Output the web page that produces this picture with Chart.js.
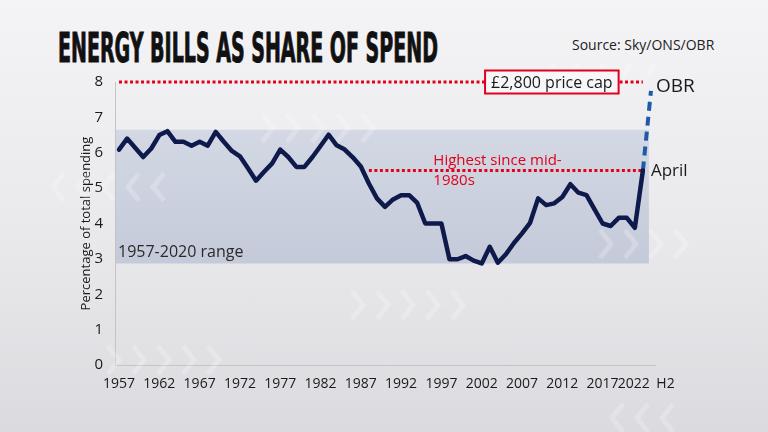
<!DOCTYPE html>
<html>
<head>
<meta charset="utf-8">
<script src="https://cdn.jsdelivr.net/npm/chart.js@4/dist/chart.umd.min.js"></script>
<style>
html,body{margin:0;padding:0;}
body{width:768px;height:432px;overflow:hidden;position:relative;
  background:linear-gradient(180deg,#f4f4f6 0%,#e9e9ec 55%,#dbdbdf 100%);
  font-family:'Open Sans',sans-serif;}
#title{position:absolute;left:58px;top:28px;font-family:'Liberation Sans Narrow','DejaVu Sans Condensed','Liberation Sans',sans-serif;
  font-weight:700;font-size:41px;line-height:1;color:#111;white-space:nowrap;transform-origin:0 0;-webkit-text-stroke:1px #111;}
#source{position:absolute;left:572px;top:35px;font-size:14px;color:#222;white-space:nowrap;}
#wrap{position:absolute;left:0;top:0;width:768px;height:432px;}
</style>
</head>
<body>
<div id="title">ENERGY BILLS AS SHARE OF SPEND</div>
<div id="source">Source: Sky/ONS/OBR</div>
<div id="wrap"><canvas id="c" width="768" height="432"></canvas></div>
<script>
// ---- data ----
const categories = ['1957','1958','1959','1960','1961','1962','1963','1964','1965','1966',
  '1967','1968','1969','1970','1971','1972','1973','1974','1975','1976',
  '1977','1978','1979','1980','1981','1982','1983','1984','1985','1986',
  '1987','1988','1989','1990','1991','1992','1993','1994','1995','1996',
  '1997','1998','1999','2000','2001','2002','2003','2004','2005','2006',
  '2007','2008','2009','2010','2011','2012','2013','2014','2015','2016',
  '2017','2018','2019','2020','2021','2022','H2'];
// share of total spending (%), 1957 .. 2021, then April 2022
const shareOfSpend = [6.09,6.40,6.14,5.88,6.12,6.50,6.61,6.31,6.31,6.20,
  6.31,6.20,6.59,6.31,6.05,5.90,5.56,5.21,5.46,5.70,
  6.09,5.88,5.60,5.60,5.88,6.19,6.51,6.21,6.09,5.87,
  5.61,5.13,4.71,4.47,4.68,4.80,4.80,4.58,4.00,4.00,
  4.00,2.99,2.99,3.08,2.95,2.87,3.34,2.89,3.13,3.45,
  3.72,4.02,4.71,4.52,4.57,4.75,5.11,4.87,4.80,4.40,
  4.00,3.93,4.16,4.16,3.88,5.50];
const obrH2 = 7.75;                 // OBR projection, H2 2022 (£2,800 price cap)
const priceCapLevel = 8;            // dotted reference line
const highestSinceLevel = 5.5;      // "Highest since mid-1980s" line
const highestSinceFrom = '1988';
const range1957to2020 = [2.87, 6.65];
const tickLabels = ['1957','1962','1967','1972','1977','1982','1987','1992','1997','2002','2007','2012','2017','2022','H2'];

// ---- derived datasets ----
const aprilIdx = categories.indexOf('2022');
const h2Idx = categories.indexOf('H2');
const mainData = categories.map((c,i)=> i < shareOfSpend.length ? shareOfSpend[i] : null);
const obrData = categories.map((c,i)=> i===aprilIdx ? shareOfSpend[aprilIdx] : (i===h2Idx ? obrH2 : null));
const capData = categories.map((c,i)=> i<=aprilIdx ? priceCapLevel : null);
const hsFromIdx = categories.indexOf(highestSinceFrom);
const highData = categories.map((c,i)=> (i>=hsFromIdx && i<=aprilIdx) ? highestSinceLevel : null);

const RED = '#e2001a';
const NAVY = '#0e1a4b';

// title fit
(function(){const t=document.getElementById('title');const w=t.scrollWidth;t.style.transform='scaleX('+(380/w)+')';})();

function chevron(ctx,x,y,w,h,dir){
  ctx.beginPath();
  if(dir>0){ctx.moveTo(x,y-h/2);ctx.lineTo(x+w,y);ctx.lineTo(x,y+h/2);}
  else{ctx.moveTo(x+w,y-h/2);ctx.lineTo(x,y);ctx.lineTo(x+w,y+h/2);}
  ctx.stroke();
}
const decoPlugin = {
  id:'deco',
  beforeDatasetsDraw(chart){
    const {ctx, chartArea:a, scales:{x,y}} = chart;
    // range band
    const top = y.getPixelForValue(range1957to2020[1]);
    const bot = y.getPixelForValue(range1957to2020[0]);
    const right = x.getPixelForValue(aprilIdx) + 6;
    const g = ctx.createLinearGradient(0,top,0,bot);
    g.addColorStop(0,'#d3d8e4'); g.addColorStop(1,'#c4cad9');
    ctx.save();
    ctx.fillStyle = g;
    ctx.fillRect(a.left+1, top, right-a.left-1, bot-top);
    // faint chevrons
    ctx.strokeStyle='rgba(255,255,255,0.22)';
    ctx.lineWidth=5; ctx.lineJoin='miter';
    [[352,305],[108,360],[600,244],[262,128]].forEach(([sx,sy],k)=>{
      const n = k===2?4:5;
      for(let i=0;i<n;i++) chevron(ctx,sx+i*25,sy,11,28,1);
    });
    for(let i=0;i<5;i++) chevron(ctx,53+i*25,187,11,27,-1);
    for(let i=0;i<3;i++) chevron(ctx,612+i*25,418,11,28,-1);
    ctx.lineWidth=4;
    [548,572,597,623,648].forEach(sx=>{ctx.beginPath();ctx.moveTo(sx,77);ctx.lineTo(sx+7,63);ctx.stroke();});
    // range label
    ctx.fillStyle='#2a2a2a';
    ctx.font='16px "Open Sans"';
    ctx.textBaseline='middle'; ctx.textAlign='left';
    ctx.fillText('1957-2020 range', a.left+3, bot-11);
    ctx.restore();
  },
  afterDatasetsDraw(chart){
    const {ctx, scales:{x,y}} = chart;
    ctx.save();
    // price cap box
    ctx.font='16px "Open Sans"';
    const txt='£2,800 price cap';
    const tw=ctx.measureText(txt).width;
    const cx=x.getPixelForValue(53.7), cy=y.getPixelForValue(priceCapLevel);
    const bw=tw+12, bh=23;
    ctx.fillStyle='#f7f7f9';
    ctx.fillRect(cx-bw/2, cy-bh/2, bw, bh);
    ctx.strokeStyle=RED; ctx.lineWidth=2;
    ctx.strokeRect(cx-bw/2, cy-bh/2, bw, bh);
    ctx.fillStyle='#1a1a1a'; ctx.textAlign='center'; ctx.textBaseline='middle';
    ctx.fillText(txt, cx, cy+1);
    // OBR, April
    ctx.textAlign='left';
    ctx.font='19px "Open Sans"';
    ctx.fillText('OBR', x.getPixelForValue(h2Idx)+5, y.getPixelForValue(obrH2)-4);
    ctx.font='17px "Open Sans"';
    ctx.fillText('April', x.getPixelForValue(aprilIdx)+8, y.getPixelForValue(shareOfSpend[aprilIdx])+1);
    // highest since
    ctx.fillStyle=RED; ctx.font='15px "Open Sans"';
    const hx=x.getPixelForValue(39), hy=y.getPixelForValue(highestSinceLevel);
    ctx.fillText('Highest since mid-', hx, hy-10);
    ctx.fillText('1980s', hx, hy+10);
    ctx.restore();
  }
};

new Chart(document.getElementById('c'), {
  type:'line',
  data:{
    labels:categories,
    datasets:[
      {label:'cap', data:capData, borderColor:RED, borderWidth:3, borderDash:[3,2.5], pointRadius:0, order:3, clip:false},
      {label:'high', data:highData, borderColor:RED, borderWidth:3, borderDash:[3,2.5], pointRadius:0, order:3},
      {label:'OBR', data:obrData, borderColor:'#1f5aa6', borderWidth:4, borderDash:[9,6], pointRadius:0, order:2, clip:false},
      {label:'share', data:mainData, borderColor:NAVY, borderWidth:4.5, pointRadius:0, borderJoinStyle:'round', borderCapStyle:'round', order:1}
    ]
  },
  options:{
    responsive:false, animation:false, devicePixelRatio:1,
    layout:{padding:{left:70, right:113, top:82, bottom:20}},
    plugins:{legend:{display:false}, tooltip:{enabled:false}},
    scales:{
      x:{
        offset:true,
        grid:{display:false, drawTicks:false},
        border:{display:true, color:'#c4c4c8', width:1},
        ticks:{autoSkip:false, maxRotation:0, minRotation:0, color:'#1a1a1a', padding:11,
          font:{size:14, family:'Open Sans'},
          callback:function(v,i){
            const l = categories[i];
            if(!tickLabels.includes(l)) return '';
            if(l==='2022') return l+'\u00A0\u00A0\u00A0\u00A0\u00A0';
            if(l==='H2') return '\u00A0\u00A0\u00A0\u00A0\u00A0\u00A0\u00A0\u00A0'+l;
            return l;
          }},
        afterFit(s){s.height=47;}
      },
      y:{
        min:0, max:8,
        grid:{display:false, drawTicks:false},
        border:{display:true, color:'#c4c4c8', width:1},
        ticks:{stepSize:1, color:'#1a1a1a', padding:12, font:{size:15, family:'Open Sans'}},
        title:{display:true, text:'Percentage of total spending', color:'#1a1a1a', font:{size:13, family:'Open Sans'}, padding:{top:8,bottom:0}},
        afterFit(s){s.width=45;}
      }
    }
  },
  plugins:[decoPlugin]
});
</script>
</body>
</html>
